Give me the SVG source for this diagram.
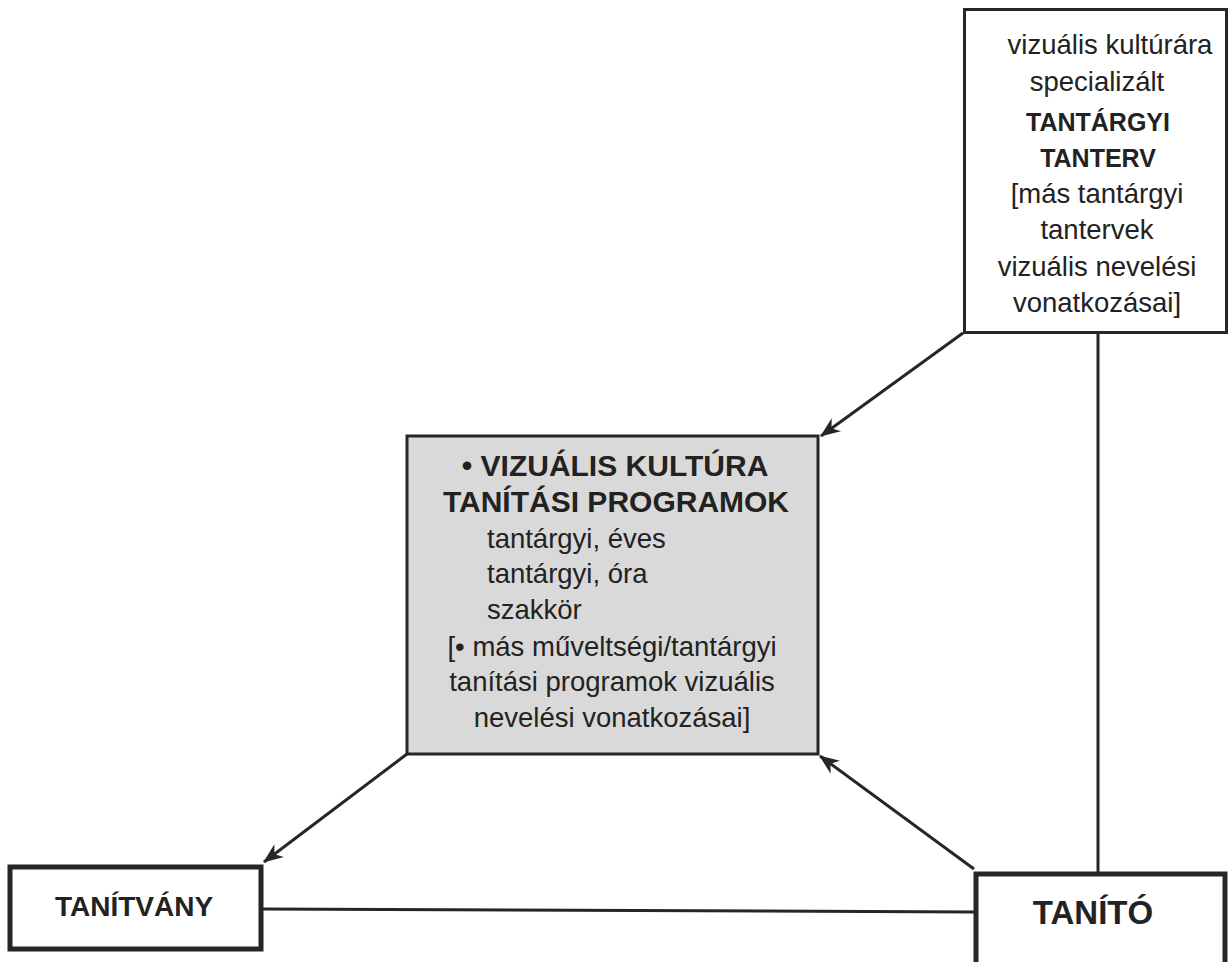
<svg xmlns="http://www.w3.org/2000/svg" width="1231" height="962" viewBox="0 0 1231 962">
<defs>
<marker id="arr" viewBox="0 0 20 16" refX="19" refY="8" markerWidth="20" markerHeight="16" markerUnits="userSpaceOnUse" orient="auto">
<path d="M0,0 L20,8 L0,16 L6,8 Z" fill="#262626"/>
</marker>
<style>
.t{font-family:"Liberation Sans",Arial,sans-serif;fill:#222;font-size:27.5px}
.b{font-weight:bold}
.c{text-anchor:middle}
.h1{font-size:25px}
.h2{font-size:30px}
.h3{font-size:28px}
.h4{font-size:33px}
.box{fill:#fff;stroke:#262626}
.edge{stroke:#262626;stroke-width:3;fill:none}
</style>
</defs>
<rect width="1231" height="962" fill="#fff"/>
<g id="connectors">
<line class="edge" x1="963" y1="333" x2="821" y2="436" marker-end="url(#arr)"/>
<line class="edge" x1="407" y1="754" x2="264" y2="862" marker-end="url(#arr)"/>
<line class="edge" x1="974" y1="869" x2="820" y2="756" marker-end="url(#arr)"/>
<line class="edge" x1="262" y1="909" x2="974" y2="912"/>
<line class="edge" x1="1098" y1="333" x2="1098" y2="872"/>
</g>
<g id="tantargyi-tanterv">
<rect class="box" x="964.5" y="9.5" width="262" height="323" stroke-width="3"/>
<text class="t c" x="1110" y="54">vizuális kultúrára</text>
<text class="t c" x="1097" y="91">specializált</text>
<text class="t b c h1" x="1098" y="131">TANTÁRGYI</text>
<text class="t b c h1" x="1098" y="167">TANTERV</text>
<text class="t c" x="1097" y="203">[más tantárgyi</text>
<text class="t c" x="1097" y="239">tantervek</text>
<text class="t c" x="1097" y="276">vizuális nevelési</text>
<text class="t c" x="1097" y="312">vonatkozásai]</text>
</g>
<g id="tanitasi-programok">
<rect x="407" y="436" width="411" height="318" fill="#d9d9d9" stroke="#262626" stroke-width="3"/>
<text class="t b c h2" x="615" y="476">• VIZUÁLIS KULTÚRA</text>
<text class="t b c h2" x="616" y="512">TANÍTÁSI PROGRAMOK</text>
<text class="t" x="487" y="548">tantárgyi, éves</text>
<text class="t" x="487" y="583">tantárgyi, óra</text>
<text class="t" x="487" y="619">szakkör</text>
<text class="t c" x="612" y="656">[•  más műveltségi/tantárgyi</text>
<text class="t c" x="612" y="691">tanítási programok vizuális</text>
<text class="t c" x="612" y="727">nevelési vonatkozásai]</text>
</g>
<g id="tanitvany">
<rect class="box" x="10" y="867" width="251" height="82" stroke-width="5"/>
<text class="t b c h3" x="134" y="916">TANÍTVÁNY</text>
</g>
<g id="tanito">
<rect class="box" x="976" y="874" width="249" height="100" stroke-width="5"/>
<text class="t b c h4" x="1093" y="924">TANÍTÓ</text>
</g>
</svg>
